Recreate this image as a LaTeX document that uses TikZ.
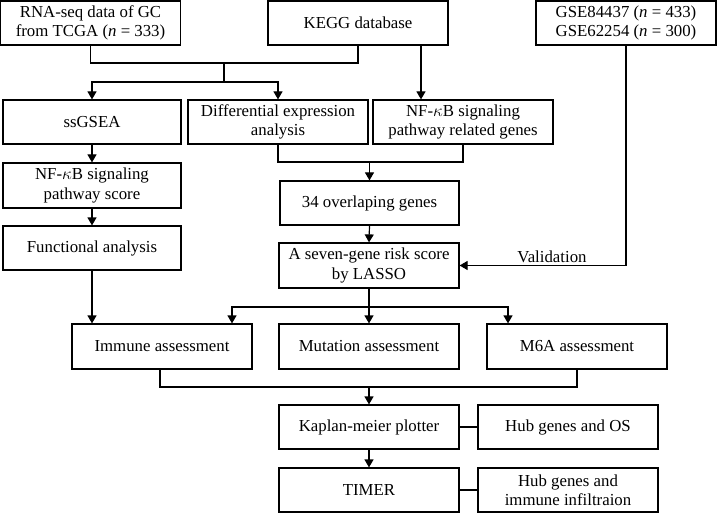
\documentclass[tikz,border=0pt]{standalone}
\usepackage{fontspec}
\setmainfont{Liberation Serif}
\usetikzlibrary{arrows.meta,calc}
\begin{document}
\begin{tikzpicture}[x=1pt,y=-1pt,
  box/.style={draw,line width=1.2pt,minimum width=180pt,minimum height=44pt,
    inner sep=1pt,align=center,font=\fontsize{16.8}{19.5}\selectfont},
  conn/.style={line width=1.2pt},
  arr/.style={line width=1.2pt,-{Triangle[length=8pt,width=9pt]}}]
\useasboundingbox (0,0) rectangle (717,513);
% top row
\node[box] (rna) at (90.5,23) {RNA-seq data of GC\\from TCGA (\textit{n} = 333)};
\node[box] (kegg) at (358,23) {KEGG database};
\node[box] (gse) at (626,23) {GSE84437 (\textit{n} = 433)\\GSE62254 (\textit{n} = 300)};
% second row
\node[box,minimum width=178pt] (ssgsea) at (92,122) {ssGSEA};
\node[box] (diff) at (278,122) {Differential expression\\analysis};
\node[box] (nfr) at (463,122) {NF-$\kappa$B signaling\\pathway related genes};
% left column
\node[box,minimum width=178pt,minimum height=45pt] (score) at (92,185.5) {NF-$\kappa$B signaling\\pathway score};
\node[box,minimum width=178pt] (func) at (92,248) {Functional analysis};
% centre column
\node[box,minimum width=179pt] (ovl) at (369.5,203) {34 overlaping genes};
\node[box,minimum width=180pt,minimum height=45pt] (seven) at (369,265.5) {A seven-gene risk score\\by LASSO};
% assessments
\node[box,minimum height=45pt] (imm) at (162,346.5) {Immune assessment};
\node[box,minimum height=45pt] (mut) at (369,346.5) {Mutation assessment};
\node[box,minimum height=45pt] (m6a) at (577,346.5) {M6A assessment};
% bottom
\node[box] (kap) at (369,427) {Kaplan-meier plotter};
\node[box] (hubos) at (568,427) {Hub genes and OS};
\node[box] (timer) at (369,490) {TIMER};
\node[box] (hubimm) at (568,490) {Hub genes and\\immune infiltraion};
% connectors top
\coordinate (j1) at (224,63);
\coordinate (j2) at (224,82);
\draw[conn] (rna.south) |- (j1) -| (kegg.south);
\draw[conn] (j1) -- (j2);
\draw[arr] (j2) -| (ssgsea.north);
\draw[arr] (j2) -| (diff.north);
\coordinate (k1) at ([xshift=63pt]kegg.south);
\draw[arr] (k1) -- (k1 |- nfr.north);
% overlap
\coordinate (j3) at (369.5,162);
\draw[conn] (diff.south) |- (j3) -| (nfr.south);
\draw[arr] (j3) -- (ovl.north);
\draw[arr] (ovl.south) -- (seven.north);
% validation
\coordinate (v1) at (gse.south |- seven.east);
\draw[arr] (gse.south) -- (v1) -- (seven.east);
\node[font=\fontsize{16.8}{19.5}\selectfont,anchor=base] (val) at (552,262) {Validation};
% left column
\draw[arr] (ssgsea.south) -- (score.north);
\draw[arr] (score.south) -- (func.north);
\draw[arr] (func.south) -- (func.south |- imm.north);
% seven to assessments
\coordinate (j4) at (369,307);
\coordinate (ai) at (232,307);
\coordinate (am) at (508,307);
\draw[conn] (seven.south) -- (j4);
\draw[arr] (j4) -- (mut.north);
\draw[arr] (j4) -- (ai) -- (ai |- imm.north);
\draw[arr] (j4) -- (am) -- (am |- m6a.north);
% to kaplan
\coordinate (j5) at (369,387);
\draw[conn] ([xshift=-2pt]imm.south) |- (j5) -| (m6a.south);
\draw[arr] (j5) -- (kap.north);
\draw[arr] (kap.south) -- (timer.north);
\draw[conn] (kap.east) -- (hubos.west);
\draw[conn] (timer.east) -- (hubimm.west);
\end{tikzpicture}
\end{document}
